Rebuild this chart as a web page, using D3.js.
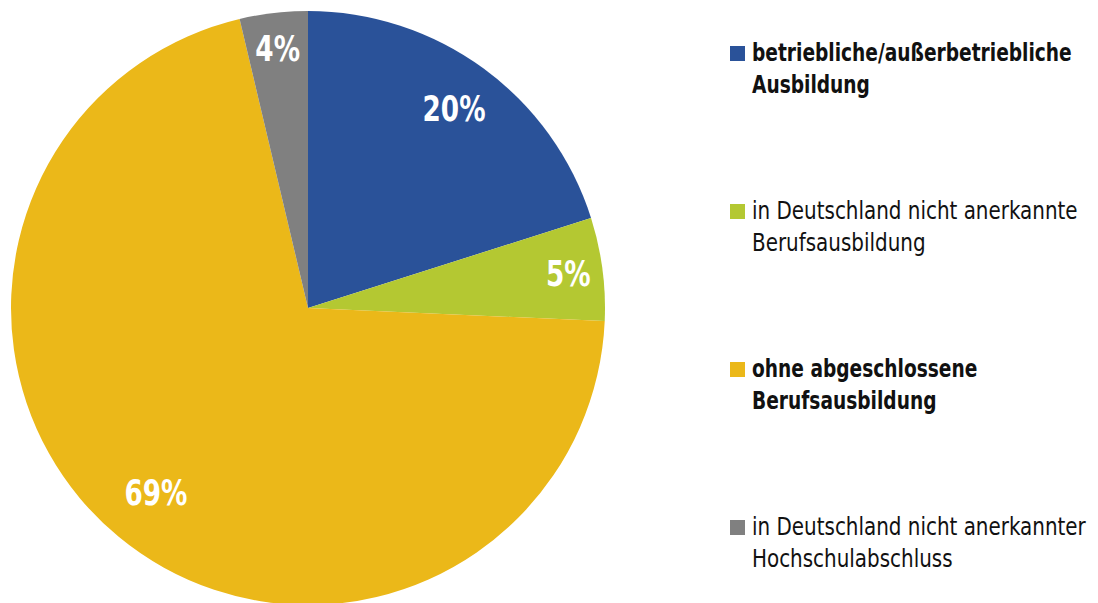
<!DOCTYPE html>
<html>
<head>
<meta charset="utf-8">
<script src="https://cdn.jsdelivr.net/npm/d3@7"></script>
<style>
  body { margin: 0; background: #fff; }
  text { font-family: "DejaVu Sans Condensed", "DejaVu Sans", sans-serif; font-stretch: condensed; }
</style>
</head>
<body>
<div id="chart"></div>
<script>
const categories = [
  ["betriebliche/außerbetriebliche", "Ausbildung"],
  ["in Deutschland nicht anerkannte", "Berufsausbildung"],
  ["ohne abgeschlossene", "Berufsausbildung"],
  ["in Deutschland nicht anerkannter", "Hochschulabschluss"]
];
const shares = [20.1, 5.6, 70.6, 3.7];
const labels = ["20%", "5%", "69%", "4%"];
const colors = ["#2a5299", "#b4c832", "#ebb819", "#808080"];
const boldLegend = [true, false, true, false];

const width = 1098, height = 603;
const cx = 308, cy = 308, r = 297;

const svg = d3.select("#chart").append("svg")
  .attr("width", width).attr("height", height);

const data = shares.map((v, i) => ({ v, i }));
const pie = d3.pie().value(d => d.v).sort(null);
const arc = d3.arc().innerRadius(0).outerRadius(r);

const g = svg.append("g").attr("transform", `translate(${cx},${cy})`);

g.selectAll("path")
  .data(pie(data))
  .enter().append("path")
  .attr("d", arc)
  .attr("fill", d => colors[d.data.i]);

// the source font is a condensed face; squeeze ours to match widths
function squeeze(sel, target) {
  const w = sel.node().getComputedTextLength();
  return target / w;
}

const labelR = [0.833, 0.884, 0.803, 0.88];
const lbl = g.selectAll("text.lbl")
  .data(pie(data))
  .enter().append("text")
  .attr("class", "lbl")
  .attr("text-anchor", "middle")
  .attr("dy", "0.36em")
  .attr("fill", "#fff")
  .style("font-weight", "bold")
  .style("font-size", "36px")
  .text(d => labels[d.data.i]);

const lblScale = squeeze(lbl.filter(d => d.data.i === 0), 63);
lbl.attr("transform", d => {
  const a = (d.startAngle + d.endAngle) / 2;
  const rr = r * labelR[d.data.i];
  return `translate(${Math.sin(a) * rr},${-Math.cos(a) * rr}) scale(${lblScale},1)`;
});

// legend
const legendY = d3.scaleLinear().domain([0, 3]).range([61, 535]);
const leg = svg.append("g").selectAll("g")
  .data(categories)
  .enter().append("g")
  .attr("transform", (d, i) => `translate(730,${legendY(i)})`);

leg.append("rect")
  .attr("x", 0).attr("y", -15)
  .attr("width", 15).attr("height", 15)
  .attr("fill", (d, i) => colors[i]);

const lt = leg.append("text")
  .style("font-size", "24px")
  .style("font-weight", (d, i) => boldLegend[i] ? "bold" : "normal")
  .attr("fill", "#111");

lt.selectAll("tspan")
  .data(d => d)
  .enter().append("tspan")
  .attr("x", 0)
  .attr("y", (d, j) => j * 32)
  .text(d => d);

// measure one line of each weight against the reference width
const probe = svg.append("text").style("font-size", "24px");
probe.style("font-weight", "bold").text(categories[0][0]);
const boldK = squeeze(probe, 320);
probe.style("font-weight", "normal").text(categories[3][0]);
const normK = squeeze(probe, 334);
probe.remove();

lt.attr("transform", (d, i) => `translate(22,0) scale(${boldLegend[i] ? boldK : normK},1)`);
</script>
</body>
</html>
